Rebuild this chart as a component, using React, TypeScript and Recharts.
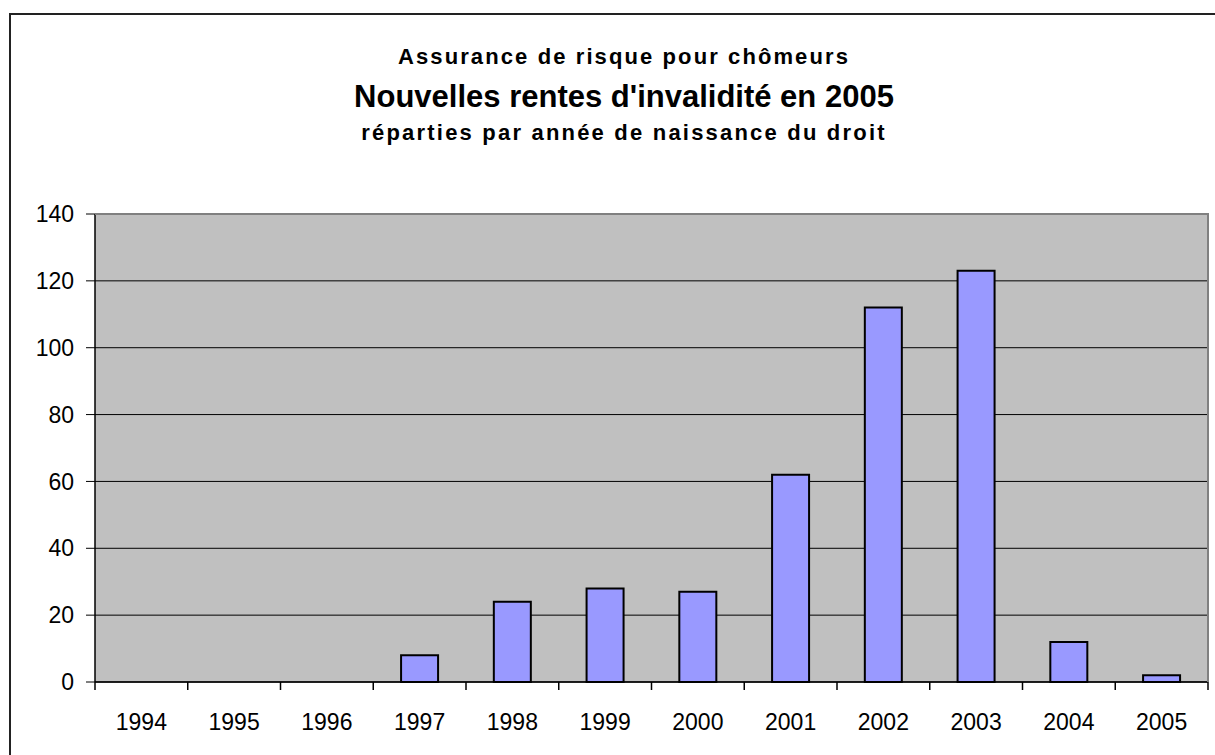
import { BarChart, Bar, XAxis, YAxis, CartesianGrid } from "recharts";

const FONT = "'Liberation Sans', Arial, sans-serif";
const BAR_FILL = "#9999FF";
const PLOT_BG = "#C0C0C0";
const EDGE = "#808080";

// data
const YEARS = ["1994", "1995", "1996", "1997", "1998", "1999", "2000", "2001", "2002", "2003", "2004", "2005"];
const RENTES = [0, 0, 0, 8, 24, 28, 27, 62, 112, 123, 12, 2];
const Y_TICKS = [0, 20, 40, 60, 80, 100, 120, 140];

const TITLE_1 = "Assurance de risque pour chômeurs";
const TITLE_2 = "Nouvelles rentes d'invalidité en 2005";
const TITLE_3 = "réparties par année de naissance du droit";

const W = 1215;
const H = 755;
const M_LEFT = 95;
const M_RIGHT = 7;
const M_TOP = 214;
const M_BOTTOM = 73;
const PLOT_W = W - M_LEFT - M_RIGHT;
const STEP = PLOT_W / YEARS.length;
const TITLE_X = 624;

const data = YEARS.map((year, i) => ({ year, value: RENTES[i] }));

// Excel puts the x tick marks between the categories, not under them
function YearTick(props: any) {
  const { x, y, payload, index } = props;
  const last = index === YEARS.length - 1;
  return (
    <g>
      <line x1={x - STEP / 2} x2={x - STEP / 2} y1={y} y2={y + 8} stroke="#000" strokeWidth={1.5} />
      {last ? <line x1={x + STEP / 2} x2={x + STEP / 2} y1={y} y2={y + 8} stroke="#000" strokeWidth={1.5} /> : null}
      <text x={x} y={y + 48} textAnchor="middle" fontSize={23} fontFamily={FONT} fill="#000">
        {payload.value}
      </text>
    </g>
  );
}

export default function App() {
  return (
    <div style={{ position: "absolute", left: 0, top: 0, width: W, height: H, background: "#fff", overflow: "hidden" }}>
      {/* outer chart frame */}
      <div style={{ position: "absolute", left: 9, top: 13, width: W, height: H, border: "2px solid #222", boxSizing: "border-box" }} />

      {/* titles */}
      <svg width={W} height={160} style={{ position: "absolute", left: 0, top: 0 }}>
        <g fontFamily={FONT} fontWeight={700} fill="#000" textAnchor="middle">
          <text x={TITLE_X} y={64} fontSize={22} letterSpacing={2.1}>{TITLE_1}</text>
          <text x={TITLE_X} y={107} fontSize={31}>{TITLE_2}</text>
          <text x={TITLE_X} y={140} fontSize={22} letterSpacing={2.2}>{TITLE_3}</text>
        </g>
      </svg>

      <div style={{ position: "absolute", left: 0, top: 0 }}>
        <BarChart
          width={W}
          height={H}
          data={data}
          margin={{ top: M_TOP, right: M_RIGHT, left: 0, bottom: 0 }}
          barCategoryGap="30%"
        >
          <CartesianGrid vertical={false} stroke="#000" strokeOpacity={1} fill={PLOT_BG} fillOpacity={1} />
          <XAxis
            dataKey="year"
            height={M_BOTTOM}
            interval={0}
            tickLine={false}
            tickSize={0}
            tickMargin={0}
            axisLine={{ stroke: "#000", strokeWidth: 1.5 }}
            tick={<YearTick />}
          />
          <YAxis
            width={M_LEFT}
            domain={[0, 140]}
            ticks={Y_TICKS}
            interval={0}
            tickSize={9}
            tickMargin={12}
            axisLine={{ stroke: "#000", strokeWidth: 1.5 }}
            tickLine={{ stroke: "#000" }}
            tick={{ fill: "#000", fontSize: 23, fontFamily: FONT }}
          />
          <Bar dataKey="value" fill={BAR_FILL} stroke="#000" strokeWidth={2} isAnimationActive={false} />
        </BarChart>
      </div>

      {/* grey top/right edge of the plot area */}
      <div
        style={{
          position: "absolute",
          left: M_LEFT,
          top: M_TOP - 1,
          width: PLOT_W + 1,
          height: H - M_TOP - M_BOTTOM + 1,
          borderTop: `2px solid ${EDGE}`,
          borderRight: `2px solid ${EDGE}`,
          boxSizing: "border-box",
          pointerEvents: "none",
        }}
      />
    </div>
  );
}
